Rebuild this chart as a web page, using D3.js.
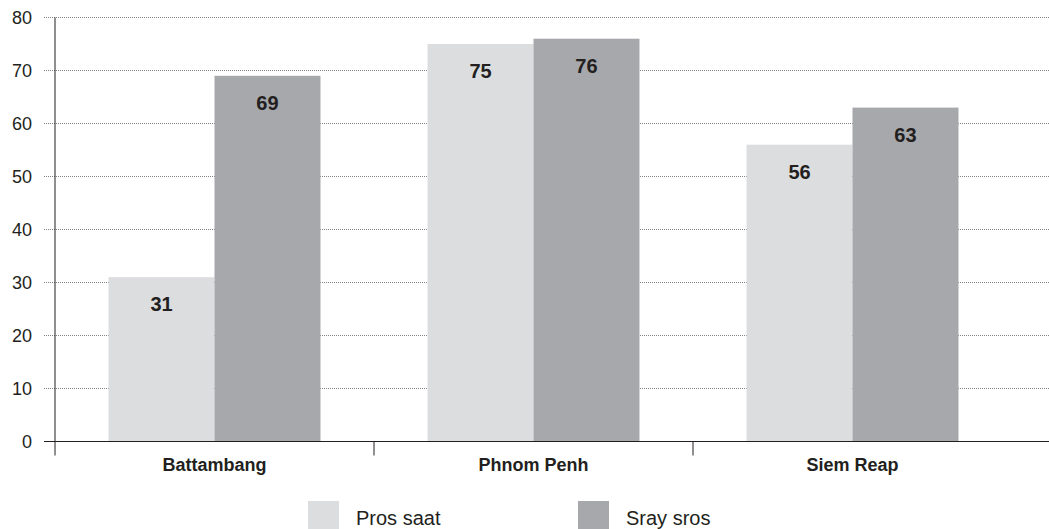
<!DOCTYPE html>
<html>
<head>
<meta charset="utf-8">
<script src="https://cdn.jsdelivr.net/npm/d3@7"></script>
<style>
  html, body { margin: 0; padding: 0; background: #fff; }
  svg { display: block; }
  text { font-family: "Liberation Sans", Arial, sans-serif; fill: #231f20; }
</style>
</head>
<body>
<svg id="chart" width="1049" height="529"></svg>
<script>
// Provinces and the two series shown for each
const categories = ["Battambang", "Phnom Penh", "Siem Reap"];
const seriesNames = ["Pros saat", "Sray sros"];
const prosSaat = [31, 75, 56];
const sraySros = [69, 76, 63];
const yTicks = [0, 10, 20, 30, 40, 50, 60, 70, 80];
const seriesColors = ["#dcdddf", "#a7a8ab"];

const svg = d3.select("#chart");
const W = 1049;
const plotLeft = 55, plotRight = 1012, plotTop = 17.5, plotBottom = 441.5;

const x0 = d3.scaleBand().domain(categories).range([plotLeft, plotRight]).paddingInner(0).paddingOuter(0);
const x1 = d3.scaleBand().domain(seriesNames).range([0, x0.bandwidth()]).paddingInner(0).paddingOuter(0.505);
const y = d3.scaleLinear().domain([0, 80]).range([plotBottom, plotTop]);

const rows = categories.map((c, i) => ({ cat: c, vals: [prosSaat[i], sraySros[i]] }));

// dotted horizontal gridlines
svg.append("g").selectAll("line")
  .data(yTicks.filter(t => t > 0))
  .join("line")
  .attr("x1", 44).attr("x2", W)
  .attr("y1", d => y(d)).attr("y2", d => y(d))
  .attr("stroke", "#808285").attr("stroke-width", 1)
  .attr("stroke-dasharray", "1,1");

// y tick labels
svg.append("g").selectAll("text")
  .data(yTicks)
  .join("text")
  .attr("x", 32).attr("y", d => y(d))
  .attr("dy", "0.35em")
  .attr("text-anchor", "end")
  .style("font-size", "18px")
  .text(d => d);

// bars
const groups = svg.append("g").selectAll("g")
  .data(rows)
  .join("g")
  .attr("transform", d => `translate(${x0(d.cat)},0)`);

groups.selectAll("rect")
  .data(d => d.vals.map((v, i) => ({ s: seriesNames[i], v, i })))
  .join("rect")
  .attr("x", d => x1(d.s))
  .attr("width", x1.bandwidth())
  .attr("y", d => y(d.v))
  .attr("height", d => plotBottom - y(d.v))
  .attr("fill", d => seriesColors[d.i]);

groups.selectAll("text")
  .data(d => d.vals.map((v, i) => ({ s: seriesNames[i], v, i })))
  .join("text")
  .attr("x", d => x1(d.s) + x1.bandwidth() / 2)
  .attr("y", d => y(d.v) + 27)
  .attr("dy", "0.35em")
  .attr("text-anchor", "middle")
  .style("font-size", "20px")
  .style("font-weight", "bold")
  .text(d => d.v);

// axis lines
svg.append("line")
  .attr("x1", plotLeft).attr("x2", plotLeft)
  .attr("y1", plotTop).attr("y2", plotBottom + 14)
  .attr("stroke", "#231f20").attr("stroke-width", 1);
svg.append("line")
  .attr("x1", 44).attr("x2", W)
  .attr("y1", plotBottom).attr("y2", plotBottom)
  .attr("stroke", "#231f20").attr("stroke-width", 1.2);

// category separators below the baseline
svg.append("g").selectAll("line")
  .data(categories.slice(1))
  .join("line")
  .attr("x1", d => x0(d)).attr("x2", d => x0(d))
  .attr("y1", plotBottom).attr("y2", plotBottom + 14)
  .attr("stroke", "#231f20").attr("stroke-width", 1);

// category labels
svg.append("g").selectAll("text")
  .data(categories)
  .join("text")
  .attr("x", d => x0(d) + x0.bandwidth() / 2)
  .attr("y", 465)
  .attr("dy", "0.35em")
  .attr("text-anchor", "middle")
  .style("font-size", "18px")
  .style("font-weight", "bold")
  .text(d => d);

// legend
const legendX = [308, 578];
const legend = svg.append("g").selectAll("g")
  .data(seriesNames)
  .join("g")
  .attr("transform", (d, i) => `translate(${legendX[i]},501)`);
legend.append("rect")
  .attr("width", 31).attr("height", 31)
  .attr("fill", (d, i) => seriesColors[i]);
legend.append("text")
  .attr("x", 48).attr("y", 24)
  .style("font-size", "20px")
  .text(d => d);
</script>
</body>
</html>
